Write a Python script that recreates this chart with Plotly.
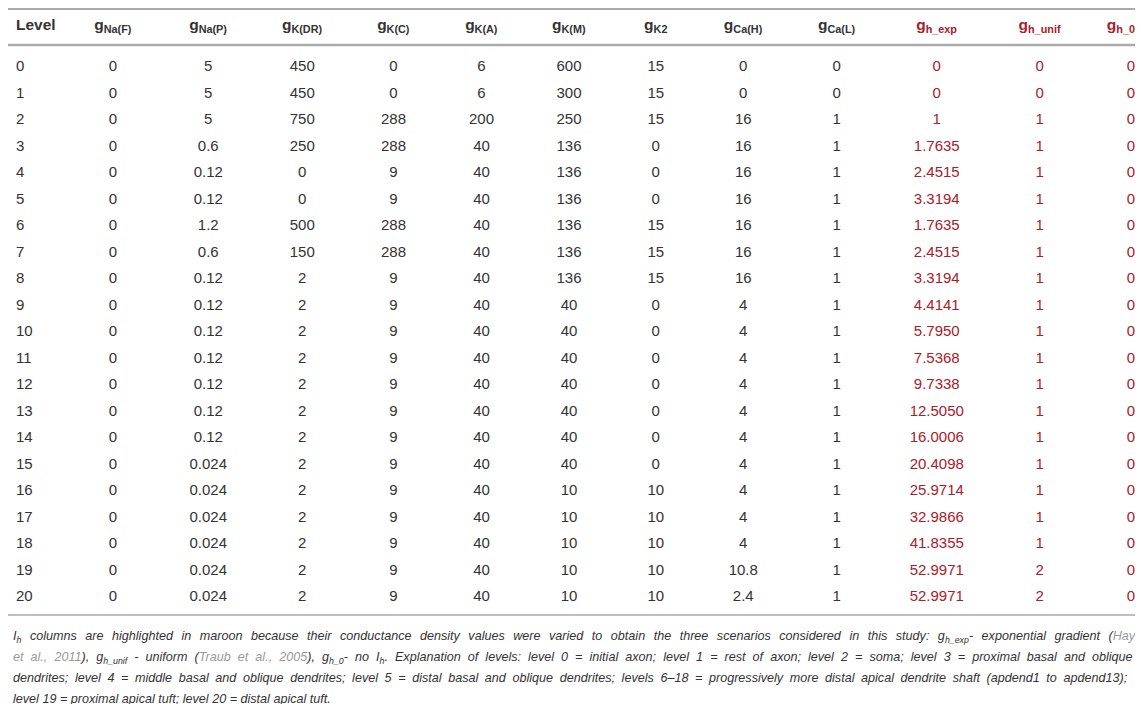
import plotly.graph_objects as go

# conductance densities per level (table columns)
levels = list(range(21))
g_na_f = [0] * 21
g_na_p = [5, 5, 5, 0.6, 0.12, 0.12, 1.2, 0.6, 0.12, 0.12, 0.12, 0.12, 0.12, 0.12, 0.12,
          0.024, 0.024, 0.024, 0.024, 0.024, 0.024]
g_k_dr = [450, 450, 750, 250, 0, 0, 500, 150, 2, 2, 2, 2, 2, 2, 2, 2, 2, 2, 2, 2, 2]
g_k_c = [0, 0, 288, 288, 9, 9, 288, 288, 9, 9, 9, 9, 9, 9, 9, 9, 9, 9, 9, 9, 9]
g_k_a = [6, 6, 200, 40, 40, 40, 40, 40, 40, 40, 40, 40, 40, 40, 40, 40, 40, 40, 40, 40, 40]
g_k_m = [600, 300, 250, 136, 136, 136, 136, 136, 136, 40, 40, 40, 40, 40, 40, 40,
         10, 10, 10, 10, 10]
g_k2 = [15, 15, 15, 0, 0, 0, 15, 15, 15, 0, 0, 0, 0, 0, 0, 0, 10, 10, 10, 10, 10]
g_ca_h = [0, 0, 16, 16, 16, 16, 16, 16, 16, 4, 4, 4, 4, 4, 4, 4, 4, 4, 4, 10.8, 2.4]
g_ca_l = [0, 0] + [1] * 19
g_h_exp = [0, 0, 1, 1.7635, 2.4515, 3.3194, 1.7635, 2.4515, 3.3194, 4.4141, 5.7950,
           7.5368, 9.7338, 12.5050, 16.0006, 20.4098, 25.9714, 32.9866, 41.8355,
           52.9971, 52.9971]
g_h_unif = [0, 0] + [1] * 17 + [2, 2]
g_h_0 = [0] * 21

headers = ["Level", "g<sub>Na(F)</sub>", "g<sub>Na(P)</sub>", "g<sub>K(DR)</sub>",
           "g<sub>K(C)</sub>", "g<sub>K(A)</sub>", "g<sub>K(M)</sub>", "g<sub>K2</sub>",
           "g<sub>Ca(H)</sub>", "g<sub>Ca(L)</sub>", "g<sub>h_exp</sub>",
           "g<sub>h_unif</sub>", "g<sub>h_0</sub>"]

GREY_REF = "<span style='color:#9a9a9a'>{}</span>"
footer_lines = [
    "I<sub>h</sub> columns are highlighted in maroon because their conductance density values were varied to obtain the three scenarios considered in this study: g<sub>h_exp</sub>- exponential gradient (" + GREY_REF.format("Hay"),
    GREY_REF.format("et al., 2011") + "), g<sub>h_unif</sub> - uniform (" + GREY_REF.format("Traub et al., 2005") + "), g<sub>h_0</sub>- no I<sub>h</sub>. Explanation of levels: level 0 = initial axon; level 1 = rest of axon; level 2 = soma; level 3 = proximal basal and oblique",
    "dendrites; level 4 = middle basal and oblique dendrites; level 5 = distal basal and oblique dendrites; levels 6–18 = progressively more distal apical dendrite shaft (apdend1 to apdend13);",
    "level 19 = proximal apical tuft; level 20 = distal apical tuft.",
]
# extra word spacing to imitate the justified caption lines
footer_spacing = [5.0, 3.55, 3.1, 0]

DARK = "#333333"
MAROON = "#a8202a"
RULE = "#aaaaaa"
FONT = "Liberation Sans, Arial, sans-serif"
W, H = 1143, 704


def fmt(vals):
    return [f"{v:g}" for v in vals]


def fmt4(vals):
    return [str(int(v)) if float(v).is_integer() else f"{v:.4f}" for v in vals]


columns = [fmt(levels), fmt(g_na_f), fmt(g_na_p), fmt(g_k_dr), fmt(g_k_c), fmt(g_k_a),
           fmt(g_k_m), fmt(g_k2), fmt(g_ca_h), fmt(g_ca_l), fmt4(g_h_exp),
           fmt(g_h_unif), fmt(g_h_0)]

col_colors = [DARK] * 10 + [MAROON] * 3
aligns = ["left"] + ["center"] * 11 + ["right"]
widths = [57, 96, 94.5, 93.5, 89, 87, 88, 85.5, 89.5, 97.5, 102.5, 103.5, 51.5]

header_h = 44
row_h = 26.5

fig = go.Figure(go.Table(
    domain=dict(x=[0, 1 - 8 / W], y=[0, 1]),
    columnwidth=widths,
    header=dict(
        values=[f"<b>{h}</b>" for h in headers],
        align=aligns,
        height=header_h,
        fill_color="rgba(0,0,0,0)",
        line=dict(color="rgba(0,0,0,0)", width=0),
        font=dict(family=FONT, size=15.5, color=col_colors),
    ),
    cells=dict(
        values=columns,
        align=aligns,
        height=row_h,
        fill_color="rgba(0,0,0,0)",
        line=dict(color="rgba(0,0,0,0)", width=0),
        font=dict(family=FONT, size=15, color=col_colors),
    ),
))

# horizontal rules: top, under header, under last row
for yy, lw in [(1, 2), (37, 2.4), (607, 1.6)]:
    fig.add_shape(type="line", xref="paper", yref="paper", x0=0, x1=1,
                  y0=1 - yy / H, y1=1 - yy / H, line=dict(color=RULE, width=lw))

for i, txt in enumerate(footer_lines):
    fig.add_annotation(
        text=f"<span style='word-spacing:{footer_spacing[i]}px'><i>{txt}</i></span>",
        xref="paper", yref="paper",
        x=3 / W, y=1 - (629 + i * 20.7) / H, xanchor="left", yanchor="middle",
        showarrow=False, align="left",
        font=dict(family=FONT, size=12.6, color=DARK),
    )

fig.update_layout(
    width=W, height=H,
    margin=dict(l=0, r=0, t=0, b=0),
    paper_bgcolor="white",
    plot_bgcolor="white",
)

fig.write_html("out.html")
